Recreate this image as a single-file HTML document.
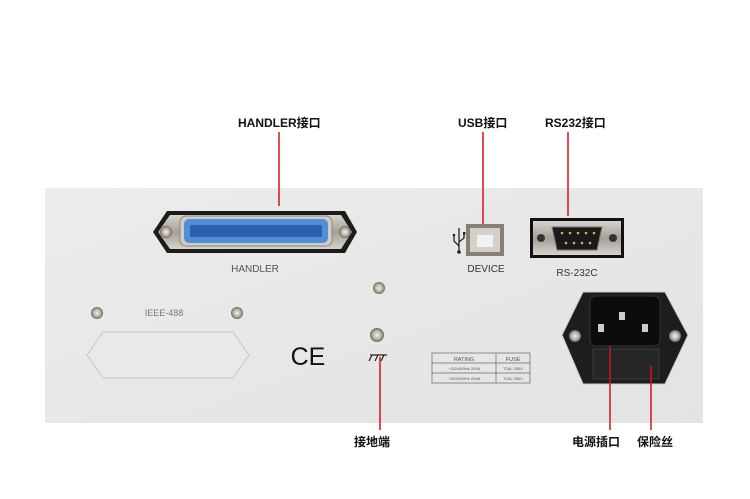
<!DOCTYPE html>
<html><head><meta charset="utf-8"><style>
body{margin:0;background:#fff;width:750px;height:494px;overflow:hidden}
</style></head><body>
<svg width="750" height="494" viewBox="0 0 750 494" xmlns="http://www.w3.org/2000/svg" style="font-family:'Liberation Sans','Noto Sans CJK SC',sans-serif">
<defs>
<linearGradient id="pn" x1="0" y1="0" x2="1" y2="1"><stop offset="0" stop-color="#ececec"/><stop offset="1" stop-color="#e3e3e3"/></linearGradient>
<radialGradient id="sc"><stop offset="0" stop-color="#f4f1ea"/><stop offset="0.6" stop-color="#b8b2a6"/><stop offset="1" stop-color="#6d675e"/></radialGradient>
<linearGradient id="mt" x1="0" y1="0" x2="0" y2="1"><stop offset="0" stop-color="#d8d4cc"/><stop offset="0.5" stop-color="#a59f95"/><stop offset="1" stop-color="#d8d4cc"/></linearGradient>
</defs>
<rect x="45" y="188" width="658" height="235" fill="url(#pn)"/>
<!-- handler -->
<path d="M153 232 L167 211 L345 211 L357 232 L345 253 L167 253 Z" fill="#1c1c1c"/>
<path d="M158 232 L170 215 L341 215 L352 232 L341 249 L170 249 Z" fill="url(#mt)"/>
<rect x="180" y="216" width="152" height="30" rx="6" fill="#d0ccc4" stroke="#8c877e"/>
<rect x="184" y="219" width="144" height="24" rx="5" fill="#4e8fd6"/>
<rect x="190" y="225" width="132" height="12" fill="#2c5fae"/>
<circle cx="166" cy="232" r="6" fill="url(#sc)"/><circle cx="345" cy="232" r="6" fill="url(#sc)"/>
<text x="255" y="272" font-size="10" fill="#555" text-anchor="middle">HANDLER</text>
<!-- IEEE -->
<circle cx="97" cy="313" r="6" fill="url(#sc)"/><circle cx="237" cy="313" r="6" fill="url(#sc)"/>
<text x="164" y="316" font-size="9" fill="#777" text-anchor="middle">IEEE-488</text>
<path d="M103 332 L233 332 L249 355 L233 378 L103 378 L87 355 Z" fill="#e9e9e9" stroke="#c6c6c6"/>
<text x="308" y="365" font-size="25" fill="#111" text-anchor="middle">CE</text>
<circle cx="379" cy="288" r="6" fill="url(#sc)"/>
<circle cx="377" cy="335" r="7" fill="url(#sc)"/>
<path d="M370 355 L387 355 M372 355 L369 361 M378 355 L375 361 M384 355 L381 361" stroke="#222" stroke-width="1.2" fill="none"/>
<!-- table -->
<g stroke="#666" stroke-width="0.7" fill="none"><rect x="432" y="353" width="98" height="30"/><line x1="432" y1="363" x2="530" y2="363"/><line x1="432" y1="373" x2="530" y2="373"/><line x1="496" y1="353" x2="496" y2="383"/></g>
<g font-size="5.5" fill="#555" text-anchor="middle"><text x="464" y="361">RATING</text><text x="513" y="361">FUSE</text><text x="464" y="370" font-size="4">~110V/60Hz 20VA</text><text x="513" y="370" font-size="4">T2AL 250V</text><text x="464" y="380" font-size="4">~220V/50Hz 20VA</text><text x="513" y="380" font-size="4">T1AL 250V</text></g>
<!-- USB -->
<g stroke="#222" stroke-width="1.3" fill="none"><line x1="459" y1="228" x2="459" y2="252"/><path d="M459 246 L454 241 L454 236 M459 242 L464 238 L464 234"/></g>
<circle cx="459" cy="252" r="1.8" fill="#222"/><circle cx="454" cy="235" r="1.3" fill="#222"/><rect x="463" y="232" width="2.5" height="2.5" fill="#222"/>
<rect x="466" y="224" width="38" height="32" fill="#8a7f74"/>
<rect x="470" y="228" width="30" height="24" fill="#d5d1ca"/>
<rect x="477" y="235" width="16" height="12" fill="#f2f2f2"/>
<text x="486" y="272" font-size="10" fill="#333" text-anchor="middle">DEVICE</text>
<!-- RS232 -->
<rect x="530" y="218" width="94" height="40" fill="#111"/>
<rect x="533" y="221" width="88" height="34" fill="url(#mt)"/>
<path d="M552 227 L602 227 L597 250 L557 250 Z" fill="#1a1a1a" stroke="#777"/>
<circle cx="541" cy="238" r="4" fill="#333"/><circle cx="613" cy="238" r="4" fill="#333"/>
<g fill="#d4b24a"><circle cx="562" cy="233" r="1.3"/><circle cx="570" cy="233" r="1.3"/><circle cx="578" cy="233" r="1.3"/><circle cx="586" cy="233" r="1.3"/><circle cx="594" cy="233" r="1.3"/><circle cx="566" cy="243" r="1.3"/><circle cx="574" cy="243" r="1.3"/><circle cx="582" cy="243" r="1.3"/><circle cx="590" cy="243" r="1.3"/></g>
<text x="577" y="276" font-size="10" fill="#333" text-anchor="middle">RS-232C</text>
<!-- power -->
<path d="M583 292 L665 292 L688 335 L665 384 L583 384 L562 335 Z" fill="#1d1d1d" stroke="#ccc"/>
<rect x="590" y="296" width="70" height="50" rx="6" fill="#0c0c0c" stroke="#333"/>
<rect x="598" y="324" width="6" height="8" fill="#ccc"/><rect x="619" y="312" width="6" height="8" fill="#ccc"/><rect x="642" y="324" width="6" height="8" fill="#ccc"/>
<rect x="593" y="349" width="66" height="30" fill="#262626" stroke="#3a3a3a"/>
<circle cx="575" cy="336" r="6" fill="url(#sc)"/><circle cx="675" cy="336" r="6" fill="url(#sc)"/>
<!-- lines -->
<g stroke="#d6121e" stroke-width="1.5">
<line x1="279" y1="132" x2="279" y2="206"/>
<line x1="483" y1="132" x2="483" y2="224"/>
<line x1="568" y1="132" x2="568" y2="216"/>
<line x1="380" y1="357" x2="380" y2="430"/>
<line x1="610" y1="346" x2="610" y2="430"/>
<line x1="651" y1="366" x2="651" y2="430"/>
</g>
<g font-size="12" font-weight="bold" fill="#111">
<text x="238" y="127">HANDLER接口</text>
<text x="458" y="127">USB接口</text>
<text x="545" y="127">RS232接口</text>
<text x="354" y="446">接地端</text>
<text x="572" y="446">电源插口</text>
<text x="637" y="446">保险丝</text>
</g>
</svg>
</body></html>
